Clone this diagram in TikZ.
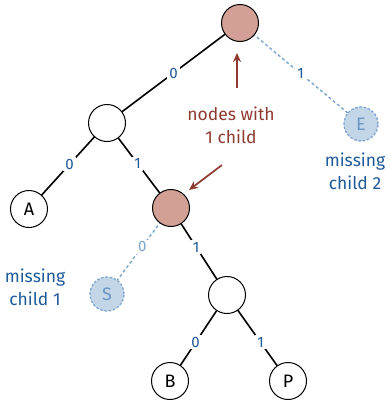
\documentclass[tikz,border=0pt]{standalone}
\usepackage{fontspec}
\setmainfont{Fira Sans}
\usetikzlibrary{arrows.meta}
\definecolor{pinkfill}{HTML}{D3A096}
\definecolor{darkred}{HTML}{8E3B30}
\definecolor{lblblue}{HTML}{1F5A9A}
\definecolor{ltblue}{HTML}{C3D6E8}
\definecolor{ltline}{HTML}{7BA5CF}
\tikzset{
  tnode/.style={circle,draw=black,line width=1pt,fill=white,minimum size=37pt,inner sep=0pt,font=\fontsize{18}{18}\selectfont},
  onechild/.style={tnode,fill=pinkfill},
  missing/.style={circle,draw=ltline,dash pattern=on 2.5pt off 1.8pt,line width=1.3pt,fill=ltblue,minimum size=34pt,inner sep=0pt,text=ltline!80!lblblue,font=\fontsize{18}{18}\selectfont},
  edge/.style={line width=1.6pt,black},
  medge/.style={line width=1.4pt,ltline,dash pattern=on 3pt off 2.5pt},
  elbl/.style={fill=white,inner sep=2pt,text=lblblue,font=\fontsize{15}{15}\selectfont},
  melbl/.style={elbl,text=ltline},
  note/.style={align=center,font=\fontsize{17.5}{23}\selectfont},
  redarrow/.style={line width=1.7pt,darkred,-{Stealth[length=9pt,width=8pt]}}
}
\begin{document}
\begin{tikzpicture}[x=1pt,y=1pt]
\useasboundingbox (0,0) rectangle (389,-410);
\coordinate (r) at (240,-23);
\coordinate (l) at (107,-123);
\coordinate (a) at (29,-209);
\coordinate (m) at (171,-208);
\coordinate (s) at (107,-294);
\coordinate (w) at (227,-295);
\coordinate (b) at (170,-381);
\coordinate (p) at (288,-381);
\coordinate (e) at (361,-124);
\draw[edge] (r) -- node[elbl,pos=0.5]{0} (l);
\draw[medge] (r) -- node[elbl,pos=0.5]{1} (e);
\draw[edge] (l) -- node[elbl,pos=0.48]{0} (a);
\draw[edge] (l) -- node[elbl,pos=0.48]{1} (m);
\draw[medge] (m) -- node[melbl,pos=0.45]{0} (s);
\draw[edge] (m) -- node[elbl,pos=0.45]{1} (w);
\draw[edge] (w) -- node[elbl,pos=0.55]{0} (b);
\draw[edge] (w) -- node[elbl,pos=0.55]{1} (p);
\node[onechild] (R) at (r) {};
\node[tnode] (L) at (l) {};
\node[tnode] (A) at (a) {A};
\node[onechild] (M) at (m) {};
\node[missing] (S) at (s) {S};
\node[tnode] (W) at (w) {};
\node[tnode] (B) at (b) {B};
\node[tnode] (P) at (p) {P};
\node[missing] (E) at (e) {E};
\node[note,text=darkred] (N) at (231,-125) {nodes with\\1 child};
\coordinate (t1) at (237,-88);
\coordinate (h1) at (237,-53);
\draw[redarrow] (t1) -- (h1);
\coordinate (t2) at (222,-165);
\coordinate (h2) at (189,-190);
\draw[redarrow] (t2) -- (h2);
\node[note,text=lblblue] (MC2) at (355,-171) {missing\\child 2};
\node[note,text=lblblue] (MC1) at (35,-287) {missing\\child 1};
\end{tikzpicture}
\end{document}
